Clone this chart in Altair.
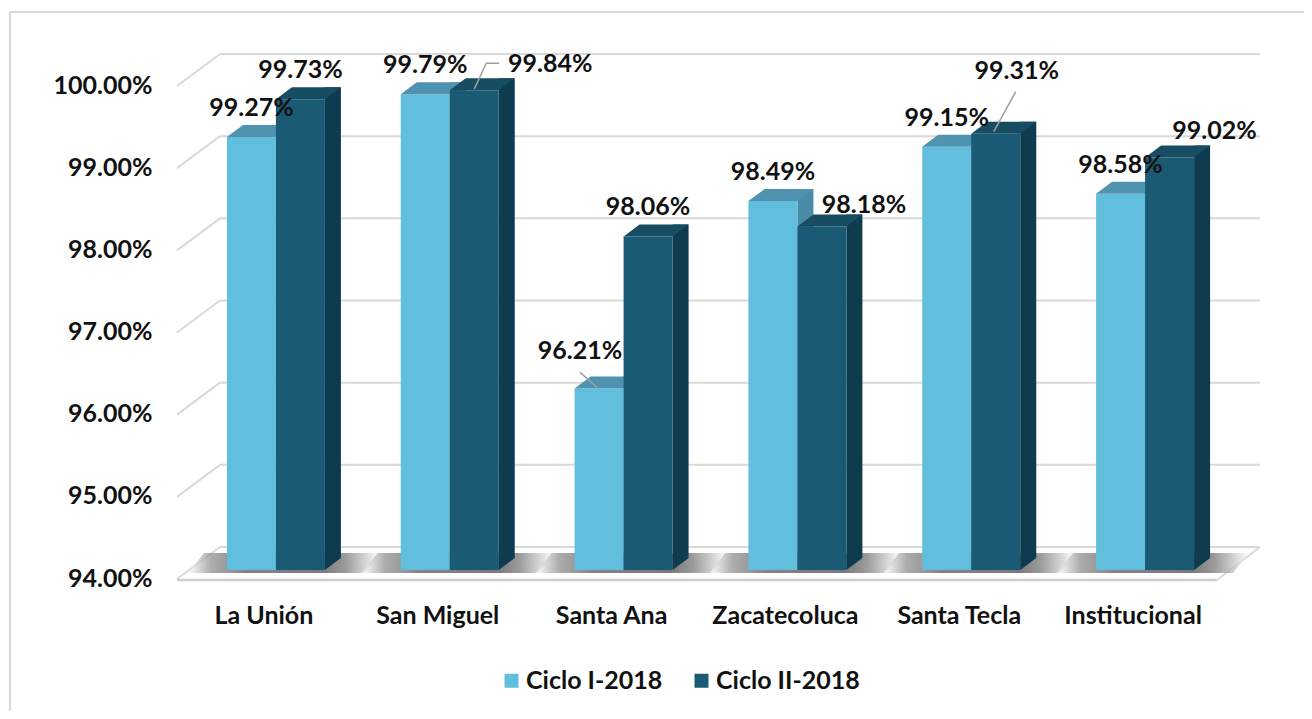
import altair as alt
import pandas as pd

# ---------------- data ----------------
categorias = ["La Unión", "San Miguel", "Santa Ana", "Zacatecoluca", "Santa Tecla", "Institucional"]
series = ["Ciclo I-2018", "Ciclo II-2018"]
ciclo_1 = [99.27, 99.79, 96.21, 98.49, 99.15, 98.58]
ciclo_2 = [99.73, 99.84, 98.06, 98.18, 99.31, 99.02]
y_ticks = [94, 95, 96, 97, 98, 99, 100]

rows = []
for c, a, b in zip(categorias, ciclo_1, ciclo_2):
    rows.append({"cat": c, "serie": series[0], "valor": a})
    rows.append({"cat": c, "serie": series[1], "valor": b})
df = pd.DataFrame(rows)
df["etiqueta"] = df["valor"].map(lambda v: f"{v:.2f}%")
ticks_df = pd.DataFrame({"t": y_ticks})

# ---------------- style ----------------
FONT = "Lato"
FS = 25
W, H = 1043, 493
BAR = 49
DEPTH_X, DEPTH_Y = 16, 12
BACK_X, BACK_Y = 31, -23
GRID_COL = "#D9D9D9"
front_col = {series[0]: "#62BEDD", series[1]: "#1B5A74"}
top_col = {series[0]: "#4F93AF", series[1]: "#174D63"}
side_col = {series[0]: "#4A8CA6", series[1]: "#0F3B4E"}
center = {series[0]: -BAR / 2, series[1]: BAR / 2}

# label nudges (dx, dy) relative to bar centre / front top
default_nudge = (0, -29)
nudges = {
    ("San Miguel", series[1]): (76, -26),
    ("Santa Ana", series[0]): (-19, -37),
    ("Zacatecoluca", series[1]): (42, -22),
    ("Santa Tecla", series[1]): (21, -63),
    ("Institucional", series[1]): (45, -27),
}
leaders = {
    ("San Miguel", series[1]): "M 0 -1 L 12 -27 L 25 -27",
    ("Santa Ana", series[0]): "M -2 -1 L -19 -16",
    ("Santa Tecla", series[1]): "M -2 -2 L 20 -42",
}

x_axis = alt.Axis(
    labelFont=FONT, labelFontSize=FS, labelFontWeight="bold", labelColor="#111111",
    labelAngle=0, labelPadding=45, labelBaseline="middle", labelOffset=-12,
    ticks=False, domain=False, grid=False, title=None,
)
y_axis = alt.Axis(
    values=y_ticks, labelExpr="format(datum.value, '.2f') + '%'",
    labelFont=FONT, labelFontSize=FS, labelFontWeight="bold", labelColor="#111111",
    labelPadding=37, labelOffset=8, ticks=False, domain=False, grid=False, title=None,
)
x_scale = alt.Scale(domain=categorias, paddingInner=0, paddingOuter=0)
y_scale = alt.Scale(domain=[94, 100], nice=False, zero=False)


def X():
    return alt.X("cat:N", scale=x_scale, axis=x_axis, sort=categorias)


def Y(field):
    return alt.Y(f"{field}:Q", scale=y_scale, axis=y_axis)


base = alt.Chart(df)
tick_base = alt.Chart(ticks_df)

layers = []

# back wall grid lines
layers.append(
    tick_base.mark_rule(color=GRID_COL, strokeWidth=2, yOffset=BACK_Y).encode(
        y=Y("t"), x=alt.value(BACK_X), x2=alt.value(W + 28)
    )
)
# left wall connectors
layers.append(
    tick_base.mark_rule(color=GRID_COL, strokeWidth=2, yOffset=9, y2Offset=BACK_Y).encode(
        y=Y("t"), y2=alt.Y2("t"), x=alt.value(-12), x2=alt.value(BACK_X)
    )
)
floor = tick_base.transform_filter("datum.t === 94")
# floor front edge
layers.append(
    floor.mark_rule(color="#CFCFCF", strokeWidth=2.5, yOffset=10).encode(
        y=Y("t"), x=alt.value(-12), x2=alt.value(W - 15)
    )
)
# floor right edge
layers.append(
    floor.mark_rule(color=GRID_COL, strokeWidth=2, yOffset=10, y2Offset=BACK_Y).encode(
        y=Y("t"), y2=alt.Y2("t"), x=alt.value(W - 15), x2=alt.value(W + 28)
    )
)

# soft floor shadows around each group
shadow_grad = alt.LinearGradient(
    gradient="linear", x1=0, x2=1, y1=0, y2=0,
    stops=[
        alt.GradientStop(color="#FFFFFF", offset=0),
        alt.GradientStop(color="#8A8A8A", offset=0.12),
        alt.GradientStop(color="#505050", offset=0.3),
        alt.GradientStop(color="#404040", offset=0.7),
        alt.GradientStop(color="#707070", offset=0.82),
        alt.GradientStop(color="#FFFFFF", offset=1),
    ],
)
layers.append(
    base.transform_filter(f"datum.serie === '{series[1]}'").transform_calculate(base="94").mark_point(
        shape="M -88 3 L 88 3 L 104 -17 L -72 -17 Z", size=4, filled=True,
        fill=shadow_grad, opacity=0.7, strokeWidth=0,
    ).encode(x=X(), y=alt.Y("base:Q", scale=y_scale, axis=y_axis))
)

# bars
for s in series:
    sub = base.transform_filter(f"datum.serie === '{s}'")
    cx = center[s]
    # side face
    layers.append(
        sub.mark_bar(width=DEPTH_X, xOffset=cx + BAR / 2 + DEPTH_X / 2, yOffset=-DEPTH_Y,
                     y2Offset=-DEPTH_Y, color=side_col[s]).encode(
            x=X(), y=Y("valor"), y2=alt.Y2(datum=94)
        )
    )
    # bottom triangle of the side face
    layers.append(
        sub.transform_calculate(base="94").mark_point(
            shape=f"M 0 0 L 0 {-DEPTH_Y} L {DEPTH_X} {-DEPTH_Y} Z", size=4, filled=True,
            fill=side_col[s], opacity=1, strokeWidth=0, xOffset=cx + BAR / 2).encode(
            x=X(), y=alt.Y("base:Q", scale=y_scale, axis=y_axis)
        )
    )
    # front face
    layers.append(
        sub.mark_bar(width=BAR, xOffset=cx, opacity=1).encode(
            x=X(), y=Y("valor"), y2=alt.Y2(datum=94),
            color=alt.Color(
                "serie:N",
                scale=alt.Scale(domain=series, range=[front_col[series[0]], front_col[series[1]]]),
                legend=alt.Legend(
                    title=None, orient="none", direction="horizontal", legendX=310, legendY=591,
                    symbolType="square", symbolSize=196, symbolStrokeWidth=0,
                    labelFont=FONT, labelFontSize=FS, labelFontWeight="bold", labelColor="#111111",
                    labelOffset=2, columnPadding=26,
                ),
            ),
        )
    )
    # top face
    hw = BAR / 2
    top_path = f"M {-hw} 0 L {hw} 0 L {hw + DEPTH_X} {-DEPTH_Y} L {-hw + DEPTH_X} {-DEPTH_Y} Z"
    layers.append(
        sub.mark_point(shape=top_path, size=4, filled=True, fill=top_col[s], opacity=1,
                       strokeWidth=0, xOffset=cx).encode(x=X(), y=Y("valor"))
    )

# leader lines
for (c, s), path in leaders.items():
    layers.append(
        base.transform_filter(f"datum.cat === '{c}' && datum.serie === '{s}'").mark_point(
            shape=path, size=4, filled=False, stroke="#A0A0A0", strokeWidth=1.5, opacity=1,
            xOffset=center[s],
        ).encode(x=X(), y=Y("valor"))
    )

# value labels
for c in categorias:
    for s in series:
        dx, dy = nudges.get((c, s), default_nudge)
        layers.append(
            base.transform_filter(f"datum.cat === '{c}' && datum.serie === '{s}'").mark_text(
                font=FONT, fontSize=FS, fontWeight="bold", color="#111111",
                align="center", baseline="middle", dx=center[s] + dx, dy=dy,
            ).encode(x=X(), y=Y("valor"), text="etiqueta:N")
        )

# outer frame
layers.append(
    tick_base.transform_filter("datum.t === 100").mark_rule(color="#D9D9D9", strokeWidth=2).encode(
        x=alt.value(-179), x2=alt.value(W + 80), y=alt.value(-65)
    )
)
layers.append(
    tick_base.transform_filter("datum.t === 100").mark_rule(color="#D9D9D9", strokeWidth=2).encode(
        x=alt.value(-179), y=alt.value(-65), y2=alt.value(H + 150)
    )
)

chart = alt.layer(*layers).properties(
    width=W, height=H,
    padding={"left": 181, "top": 69, "right": 72, "bottom": 141},
    autosize=alt.AutoSizeParams(type="none"),
    background="white",
).configure_view(stroke=None)

chart.save("out.html", embed_options={"renderer": "svg", "actions": False})
